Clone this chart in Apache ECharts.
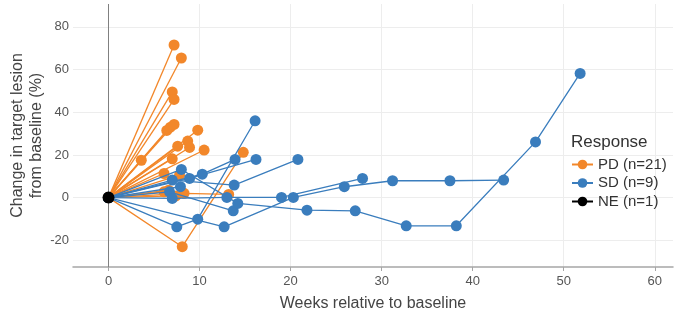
<!DOCTYPE html>
<html>
<head>
<meta charset="utf-8">
<script src="https://cdn.jsdelivr.net/npm/echarts@6/dist/echarts.min.js"></script>
<style>
  html, body { margin: 0; padding: 0; background: #fff; }
  #chart { width: 675px; height: 314px; }
</style>
</head>
<body>
<div id="chart"></div>
<script>
// every patient starts at baseline (0 weeks, 0 %)
var baseline = [0, 0];

// PD patients: [week, % change] visits after baseline
var pdPatients = [
  [[7.2, 71.5]],
  [[8.0, 65.4]],
  [[7.0, 49.5]],
  [[7.2, 46.0]],
  [[6.4, 31.5]],
  [[6.8, 33.0]],
  [[7.2, 34.3]],
  [[9.8, 31.6]],
  [[8.7, 26.5]],
  [[7.6, 24.1]],
  [[8.9, 23.5]],
  [[10.5, 22.3]],
  [[3.6, 17.5]],
  [[7.0, 18.2]],
  [[6.1, 11.3]],
  [[7.8, 10.5]],
  [[6.1, 2.7]],
  [[6.6, 3.5]],
  [[7.4, 0.8]],
  [[8.3, 2.0], [13.2, 1.5]],
  [[8.1, -23.0], [14.8, 21.2]]
];

// SD patients
var sdPatients = [
  [[7.5, -13.7], [9.8, -10.1], [16.1, 36.0]],
  [[12.7, -13.7], [20.3, 0.1], [25.9, 5.1], [31.2, 7.9], [37.5, 7.9], [43.4, 8.2]],
  [[6.7, 2.7], [13.7, -6.2]],
  [[8.0, 13.2], [14.2, -2.7], [21.8, -5.9], [27.1, -6.2], [32.7, -13.2], [38.2, -13.2], [46.9, 26.1], [51.8, 58.2]],
  [[7.0, 8.2], [13.8, 5.9], [20.8, 17.9]],
  [[8.9, 9.0], [16.2, 17.9]],
  [[10.3, 11.0], [13.9, 17.9]],
  [[7.0, -0.4], [13.0, 0.1], [19.0, 0.1], [27.9, 9.0]],
  [[7.9, 5.1]]
];

// NE patient: baseline only
var nePatients = [[]];

var groupNames = ['PD (n=21)', 'SD (n=9)', 'NE (n=1)'];
var groupColors = ['#F2872A', '#3A7DBD', '#000000'];
var xTicks = [0, 10, 20, 30, 40, 50, 60];
var yTicks = [-20, 0, 20, 40, 60, 80];

var chart = echarts.init(document.getElementById('chart'));

function makeSeries(patients, idx) {
  return patients.map(function (visits) {
    return {
      name: groupNames[idx],
      type: 'line',
      data: [baseline].concat(visits),
      symbol: 'circle',
      symbolSize: 11,
      showAllSymbol: true,
      itemStyle: { color: groupColors[idx] },
      lineStyle: { color: groupColors[idx], width: 1.3 },
      emphasis: { disabled: true },
      animation: false,
      z: 2 + idx
    };
  });
}

var series = []
  .concat(makeSeries(pdPatients, 0))
  .concat(makeSeries(sdPatients, 1))
  .concat(makeSeries(nePatients, 2));

// vertical reference line at week 0
series[series.length - 1].markLine = {
  silent: true,
  symbol: 'none',
  label: { show: false },
  lineStyle: { color: '#808080', width: 1, type: 'solid' },
  data: [{ xAxis: 0 }],
  z: 1
};
series[series.length - 1].symbolSize = 12;

var option = {
  backgroundColor: '#fff',
  animation: false,
  grid: { left: 73, right: 2, top: 4, bottom: 47, outerBoundsMode: 'none' },
  xAxis: {
    type: 'value',
    min: -3.9,
    max: 62,
    name: 'Weeks relative to baseline',
    nameLocation: 'middle',
    nameGap: 29,
    nameMoveOverlap: false,
    nameTextStyle: { fontFamily: 'Liberation Sans', fontSize: 16, color: '#444' },
    axisLine: { onZero: false, lineStyle: { color: '#a6a6a6', width: 1.5 } },
    axisTick: { show: true, length: 4, customValues: xTicks, lineStyle: { color: '#a6a6a6' } },
    axisLabel: { customValues: xTicks, fontFamily: 'Liberation Sans', fontSize: 13, color: '#555', margin: 8 },
    splitLine: { show: true, lineStyle: { color: '#ededed', width: 1 } }
  },
  yAxis: {
    type: 'value',
    min: -32.5,
    max: 90.7,
    name: 'Change in target lesion\nfrom baseline (%)',
    nameLocation: 'middle',
    nameGap: 27,
    nameMoveOverlap: false,
    nameRotate: 90,
    nameTextStyle: { fontFamily: 'Liberation Sans', fontSize: 16, color: '#444', lineHeight: 19 },
    axisLine: { show: false },
    axisTick: { show: false, customValues: yTicks },
    axisLabel: { customValues: yTicks, fontFamily: 'Liberation Sans', fontSize: 13, color: '#555', margin: 4 },
    splitLine: { show: true, lineStyle: { color: '#ededed', width: 1 } }
  },
  legend: {
    data: groupNames,
    orient: 'vertical',
    left: 566,
    top: 152,
    itemWidth: 21,
    itemHeight: 12,
    itemGap: 3.5,
    textStyle: { fontFamily: 'Liberation Sans', fontSize: 15, color: '#333' },
    selectedMode: false
  },
  graphic: [{
    type: 'text',
    left: 571,
    top: 134,
    style: { text: 'Response', font: '17px "Liberation Sans"', fill: '#333' }
  }],
  series: series
};

chart.setOption(option);
</script>
</body>
</html>
